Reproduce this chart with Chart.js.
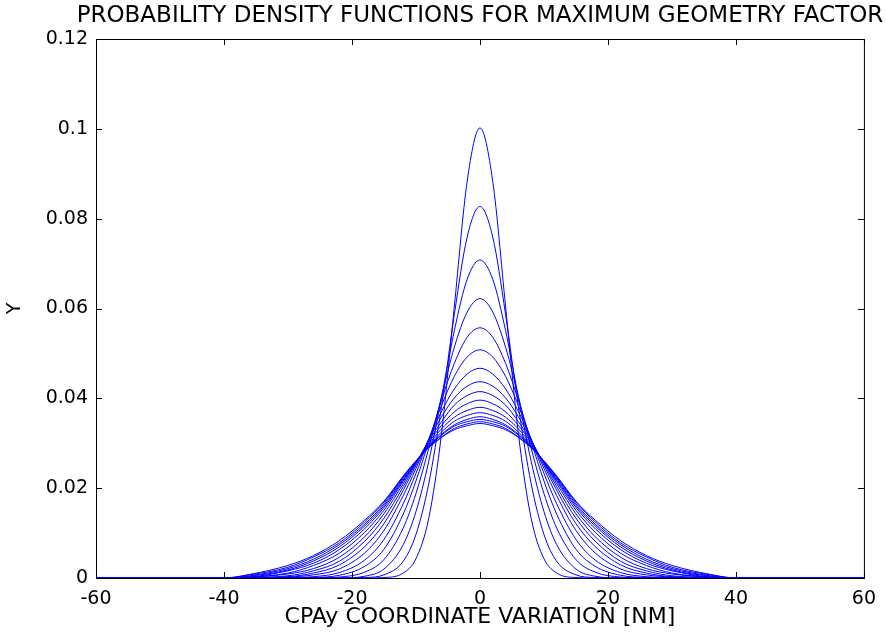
<!DOCTYPE html>
<html>
<head>
<meta charset="utf-8">
<script src="https://cdn.jsdelivr.net/npm/chart.js@4.4.1/dist/chart.umd.min.js"></script>
<style>
  html, body { margin: 0; padding: 0; background: #fff; }
  canvas { display: block; }
</style>
</head>
<body>
<canvas id="pdfChart" width="886" height="641"></canvas>
<script>
// CPAy coordinate variation [NM] at which the curves were read
const xValues = [-60, -40, -36, -30, -26, -22, -18, -15, -12, -10, -8, -6, -4, -2, 0, 2, 4, 6, 8, 10, 12, 15, 18, 22, 26, 30, 36, 40, 60];

// density values, narrowest curve first
const curve01 = [0, 0, 0, 0, 0, 0, 0, 0.0001, 0.0011, 0.0043, 0.0133, 0.0322, 0.0605, 0.0883, 0.1002, 0.0883, 0.0605, 0.0322, 0.0133, 0.0043, 0.0011, 0.0001, 0, 0, 0, 0, 0, 0, 0];
const curve02 = [0, 0, 0, 0, 0, 0, 0.0001, 0.0007, 0.0037, 0.0097, 0.0210, 0.0382, 0.0587, 0.0759, 0.0827, 0.0759, 0.0587, 0.0382, 0.0210, 0.0097, 0.0037, 0.0007, 0.0001, 0, 0, 0, 0, 0, 0];
const curve03 = [0, 0, 0, 0, 0, 0, 0.0004, 0.0020, 0.0074, 0.0148, 0.0260, 0.0403, 0.0551, 0.0665, 0.0708, 0.0665, 0.0551, 0.0403, 0.0260, 0.0148, 0.0074, 0.0020, 0.0004, 0, 0, 0, 0, 0, 0];
const curve04 = [0, 0, 0, 0, 0, 0.0002, 0.0013, 0.0041, 0.0111, 0.0188, 0.0289, 0.0404, 0.0514, 0.0592, 0.0622, 0.0592, 0.0514, 0.0404, 0.0289, 0.0188, 0.0111, 0.0041, 0.0013, 0.0002, 0, 0, 0, 0, 0];
const curve05 = [0, 0, 0, 0, 0.0001, 0.0006, 0.0026, 0.0064, 0.0142, 0.0216, 0.0304, 0.0396, 0.0478, 0.0536, 0.0557, 0.0536, 0.0478, 0.0396, 0.0304, 0.0216, 0.0142, 0.0064, 0.0026, 0.0006, 0.0001, 0, 0, 0, 0];
const curve06 = [0, 0, 0, 0.0001, 0.0003, 0.0012, 0.0040, 0.0086, 0.0165, 0.0233, 0.0309, 0.0384, 0.0449, 0.0492, 0.0508, 0.0492, 0.0449, 0.0384, 0.0309, 0.0233, 0.0165, 0.0086, 0.0040, 0.0012, 0.0003, 0.0001, 0, 0, 0];
const curve07 = [0, 0, 0, 0.0002, 0.0007, 0.0020, 0.0056, 0.0106, 0.0183, 0.0244, 0.0309, 0.0371, 0.0421, 0.0454, 0.0467, 0.0454, 0.0421, 0.0371, 0.0309, 0.0244, 0.0183, 0.0106, 0.0056, 0.0020, 0.0007, 0.0002, 0, 0, 0];
const curve08 = [0, 0, 0.0001, 0.0003, 0.0011, 0.0029, 0.0070, 0.0121, 0.0195, 0.0251, 0.0308, 0.0359, 0.0401, 0.0427, 0.0437, 0.0427, 0.0401, 0.0359, 0.0308, 0.0251, 0.0195, 0.0121, 0.0070, 0.0029, 0.0011, 0.0003, 0.0001, 0, 0];
const curve09 = [0, 0, 0.0001, 0.0005, 0.0016, 0.0037, 0.0082, 0.0133, 0.0203, 0.0255, 0.0305, 0.0348, 0.0385, 0.0406, 0.0415, 0.0406, 0.0385, 0.0348, 0.0305, 0.0255, 0.0203, 0.0133, 0.0082, 0.0037, 0.0016, 0.0005, 0.0001, 0, 0];
const curve10 = [0, 0, 0.0002, 0.0009, 0.0021, 0.0046, 0.0092, 0.0143, 0.0210, 0.0257, 0.0301, 0.0340, 0.0370, 0.0388, 0.0396, 0.0388, 0.0370, 0.0340, 0.0301, 0.0257, 0.0210, 0.0143, 0.0092, 0.0046, 0.0021, 0.0009, 0.0002, 0, 0];
const curve11 = [0, 0, 0.0002, 0.0011, 0.0028, 0.0055, 0.0102, 0.0151, 0.0215, 0.0257, 0.0297, 0.0332, 0.0358, 0.0373, 0.0380, 0.0373, 0.0358, 0.0332, 0.0297, 0.0257, 0.0215, 0.0151, 0.0102, 0.0055, 0.0028, 0.0011, 0.0002, 0, 0];
const curve12 = [0, 0, 0.0002, 0.0016, 0.0033, 0.0063, 0.0110, 0.0157, 0.0218, 0.0258, 0.0294, 0.0325, 0.0349, 0.0362, 0.0368, 0.0362, 0.0349, 0.0325, 0.0294, 0.0258, 0.0218, 0.0157, 0.0110, 0.0063, 0.0033, 0.0016, 0.0002, 0, 0];
const curve13 = [0, 0, 0.0004, 0.0018, 0.0038, 0.0069, 0.0116, 0.0161, 0.0221, 0.0258, 0.0293, 0.0320, 0.0341, 0.0353, 0.0359, 0.0353, 0.0341, 0.0320, 0.0293, 0.0258, 0.0221, 0.0161, 0.0116, 0.0069, 0.0038, 0.0018, 0.0004, 0, 0];
const curve14 = [0, 0, 0.0005, 0.0021, 0.0042, 0.0074, 0.0120, 0.0165, 0.0224, 0.0260, 0.0292, 0.0318, 0.0338, 0.0348, 0.0353, 0.0348, 0.0338, 0.0318, 0.0292, 0.0260, 0.0224, 0.0165, 0.0120, 0.0074, 0.0042, 0.0021, 0.0005, 0, 0];
const curve15 = [0, 0, 0.0007, 0.0024, 0.0047, 0.0078, 0.0125, 0.0169, 0.0225, 0.0260, 0.0291, 0.0314, 0.0333, 0.0343, 0.0348, 0.0343, 0.0333, 0.0314, 0.0291, 0.0260, 0.0225, 0.0169, 0.0125, 0.0078, 0.0047, 0.0024, 0.0007, 0, 0];
const curve16 = [0, 0, 0.0008, 0.0028, 0.0050, 0.0083, 0.0129, 0.0171, 0.0227, 0.0261, 0.0290, 0.0313, 0.0330, 0.0339, 0.0344, 0.0339, 0.0330, 0.0313, 0.0290, 0.0261, 0.0227, 0.0171, 0.0129, 0.0083, 0.0050, 0.0028, 0.0008, 0, 0];

const curves = [curve01, curve02, curve03, curve04, curve05, curve06, curve07, curve08,
                curve09, curve10, curve11, curve12, curve13, curve14, curve15, curve16];

const xTicks = [-60, -40, -20, 0, 20, 40, 60];
const xTickLabels = ['-60', '-40', '-20', '0', '20', '40', '60'];
const yTicks = [0, 0.02, 0.04, 0.06, 0.08, 0.1, 0.12];
const yTickLabels = ['0', '0.02', '0.04', '0.06', '0.08', '0.1', '0.12'];

const chartTitle = 'PROBABILITY DENSITY FUNCTIONS FOR MAXIMUM GEOMETRY FACTOR';
const xTitle = 'CPAy COORDINATE VARIATION [NM]';
const yTitle = 'Y';

const FONT = 'DejaVu Sans';

// matlab style box with inward ticks on all four sides
const boxPlugin = {
  id: 'matlabBox',
  beforeDatasetsDraw(chart) {
    const { ctx, chartArea: a } = chart;
    ctx.save();
    ctx.strokeStyle = '#000';
    ctx.lineWidth = 1;
    ctx.strokeRect(a.left + 0.5, a.top + 0.5, a.right - a.left, a.bottom - a.top);
    ctx.restore();
  },
  afterDatasetsDraw(chart) {
    const { ctx, chartArea: a, scales } = chart;
    const len = 6;
    ctx.save();
    ctx.strokeStyle = '#000';
    ctx.lineWidth = 1;
    ctx.beginPath();
    xTicks.forEach(v => {
      const px = Math.round(scales.x.getPixelForValue(v)) + 0.5;
      ctx.moveTo(px, a.bottom); ctx.lineTo(px, a.bottom - len);
      ctx.moveTo(px, a.top); ctx.lineTo(px, a.top + len);
    });
    yTicks.forEach(v => {
      const py = Math.round(scales.y.getPixelForValue(v)) + 0.5;
      ctx.moveTo(a.left, py); ctx.lineTo(a.left + len, py);
      ctx.moveTo(a.right, py); ctx.lineTo(a.right - len, py);
    });
    ctx.stroke();
    ctx.restore();
  },
  afterDraw(chart) {
    const { ctx, chartArea: a } = chart;
    ctx.save();
    ctx.fillStyle = '#000';
    ctx.font = '23px "' + FONT + '"';
    ctx.textAlign = 'center';
    ctx.textBaseline = 'middle';
    ctx.fillText(chartTitle, (a.left + a.right) / 2, 16);
    ctx.restore();
  }
};

new Chart(document.getElementById('pdfChart'), {
  type: 'line',
  data: {
    datasets: curves.map(ys => ({
      data: xValues.map((x, i) => ({ x: x, y: ys[i] })),
      borderColor: '#0000ff',
      borderWidth: 1,
      pointRadius: 0,
      fill: false,
      cubicInterpolationMode: 'monotone'
    }))
  },
  options: {
    responsive: false,
    animation: false,
    events: [],
    layout: { padding: { top: 39, right: 17, left: 0, bottom: 0 } },
    plugins: {
      legend: { display: false },
      tooltip: { enabled: false },
      title: { display: false }
    },
    scales: {
      x: {
        type: 'linear',
        min: -60,
        max: 60,
        grid: { display: false, drawTicks: false },
        border: { display: false },
        afterBuildTicks: s => { s.ticks = xTicks.map(v => ({ value: v })); },
        afterFit: s => { s.height = 63; },
        ticks: {
          color: '#000',
          padding: 10,
          maxRotation: 0,
          font: { family: FONT, size: 19 },
          callback: (v, i) => xTickLabels[i]
        },
        title: {
          display: true,
          text: xTitle,
          color: '#000',
          font: { family: FONT, size: 22 },
          padding: { top: 0, bottom: 11 }
        }
      },
      y: {
        min: 0,
        max: 0.12,
        grid: { display: false, drawTicks: false },
        border: { display: false },
        afterBuildTicks: s => { s.ticks = yTicks.map(v => ({ value: v })); },
        afterFit: s => { s.width = 96; },
        ticks: {
          color: '#000',
          padding: 8,
          font: { family: FONT, size: 19 },
          callback: (v, i) => yTickLabels[i]
        },
        title: {
          display: true,
          text: yTitle,
          color: '#000',
          font: { family: FONT, size: 19 },
          padding: { top: 4, bottom: 0 }
        }
      }
    }
  },
  plugins: [boxPlugin]
});
</script>
</body>
</html>
